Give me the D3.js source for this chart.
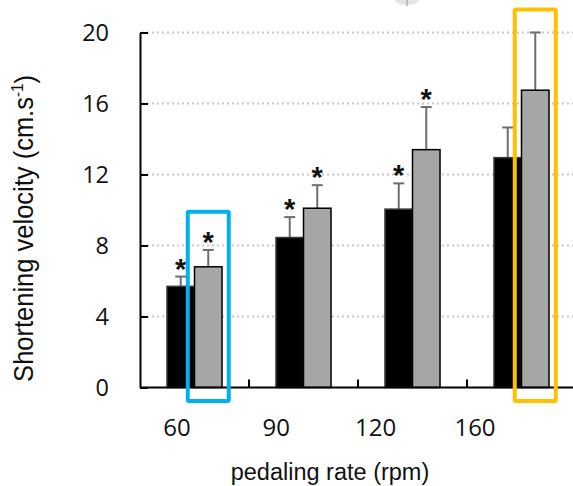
<!DOCTYPE html>
<html>
<head>
<meta charset="utf-8">
<script src="https://cdn.jsdelivr.net/npm/d3@7"></script>
<style>
  html, body { margin: 0; padding: 0; background: #fff; }
  svg { display: block; }
</style>
</head>
<body>
<svg id="chart" width="573" height="486"></svg>
<script>
// ---- data ----
const categories = ["60", "90", "120", "160"];
const seriesNames = ["black", "gray"];
const blackValues = [5.7, 8.45, 10.05, 12.95];
const blackErrors = [0.55, 1.15, 1.45, 1.7];
const grayValues = [6.8, 10.1, 13.4, 16.75];
const grayErrors = [0.95, 1.3, 2.4, 3.25];
const blackStars = [true, true, true, false];
const grayStars = [true, true, true, false];
const yTicks = [0, 4, 8, 12, 16, 20];
const highlightCats = ["60", "160"];
const highlightTops = [9.9, 21.3];
const highlightColors = ["#00b0f0", "#ffc000"];
const yTitle = "Shortening velocity (cm.s";
const yTitleSup = "-1";
const xTitle = "pedaling rate (rpm)";

(function () {
// ---- layout ----
const svg = d3.select("#chart");
const mLeft = 140, mRight = 576, mTop = 32.5, mBottom = 387.5;

const y = d3.scaleLinear().domain([0, 20]).range([mBottom, mTop]);
const x = d3.scaleBand().domain(categories).range([mLeft, mRight]).padding(0);
const xs = d3.scaleBand().domain(seriesNames).range([0, x.bandwidth()]).paddingInner(0).paddingOuter(0.98);
const xLabel = d3.scalePoint().domain(categories).range([177, 475]);

const rows = categories.map((c, i) => ({
  cat: c,
  bars: [
    { s: "black", v: blackValues[i], e: blackErrors[i], star: blackStars[i] },
    { s: "gray", v: grayValues[i], e: grayErrors[i], star: grayStars[i] }
  ]
}));

// faint artifact at top
svg.append("ellipse").attr("cx", 407).attr("cy", 0).attr("rx", 12).attr("ry", 5)
  .attr("fill", "#e4e4e4");
svg.append("line").attr("x1", 407).attr("x2", 407).attr("y1", 0).attr("y2", 6)
  .attr("stroke", "#b0b0b0").attr("stroke-width", 1.5);

// gridlines
svg.append("g").selectAll("line").data(yTicks.filter(t => t > 0)).join("line")
  .attr("x1", mLeft + 2).attr("x2", 573)
  .attr("y1", d => y(d)).attr("y2", d => y(d))
  .attr("stroke", "#c8c8c8").attr("stroke-width", 2)
  .attr("stroke-dasharray", "2 3");

// bars
const groups = svg.append("g").selectAll("g").data(rows).join("g")
  .attr("transform", d => `translate(${x(d.cat)},0)`);

// error bars
groups.selectAll("g.err").data(d => d.bars).join("g").attr("class", "err").each(function(d) {
  const g = d3.select(this);
  const cx = xs(d.s) + xs.bandwidth() / 2;
  g.append("line").attr("x1", cx).attr("x2", cx)
    .attr("y1", y(d.v)).attr("y2", y(d.v + d.e))
    .attr("stroke", "#6e6e6e").attr("stroke-width", 2);
  g.append("line").attr("x1", cx - 5.5).attr("x2", cx + 5.5)
    .attr("y1", y(d.v + d.e)).attr("y2", y(d.v + d.e))
    .attr("stroke", "#6e6e6e").attr("stroke-width", 2);
});

groups.selectAll("rect").data(d => d.bars).join("rect")
  .attr("x", d => xs(d.s))
  .attr("width", xs.bandwidth())
  .attr("y", d => y(d.v))
  .attr("height", d => y(0) - y(d.v))
  .attr("fill", d => d.s === "black" ? "#000" : "#a6a6a6")
  .attr("stroke", d => d.s === "black" ? "#3a3a3a" : "#000")
  .attr("stroke-width", 1.5);

// asterisks
groups.selectAll("text.star").data(d => d.bars.filter(b => b.star)).join("text")
  .attr("class", "star")
  .attr("x", d => xs(d.s) + xs.bandwidth() / 2)
  .attr("y", d => y(d.v + d.e) - 15 + 17)
  .attr("text-anchor", "middle")
  .attr("font-family", "Liberation Sans, Arial, sans-serif")
  .attr("font-weight", "bold")
  .attr("font-size", 29)
  .attr("fill", "#111")
  .text("*");

// y axis
const yAxis = d3.axisLeft(y).tickValues(yTicks).tickSizeInner(-8).tickSizeOuter(0).tickPadding(31);
const gy = svg.append("g").attr("transform", `translate(${mLeft},0)`).call(yAxis);
gy.select(".domain").attr("stroke", "#000").attr("stroke-width", 2);
gy.selectAll(".tick line").attr("stroke", "#000").attr("stroke-width", 2);
gy.selectAll(".tick text").attr("font-family", "Open Sans, sans-serif").attr("font-size", 23.5)
  .attr("fill", "#111").attr("dy", "0.35em");

// x axis line & ticks
svg.append("line").attr("x1", mLeft).attr("x2", 573).attr("y1", mBottom).attr("y2", mBottom)
  .attr("stroke", "#000").attr("stroke-width", 2);
svg.append("g").selectAll("line").data(categories).join("line")
  .attr("x1", d => x(d) + x.bandwidth()).attr("x2", d => x(d) + x.bandwidth())
  .attr("y1", mBottom).attr("y2", mBottom - 8)
  .attr("stroke", "#000").attr("stroke-width", 2);

// x tick labels
svg.append("g").selectAll("text").data(categories).join("text")
  .attr("x", d => xLabel(d)).attr("y", 428)
  .attr("dy", "0.35em")
  .attr("text-anchor", "middle")
  .attr("font-family", "Open Sans, sans-serif").attr("font-size", 24)
  .attr("fill", "#111")
  .text(d => d);

// highlight boxes
svg.append("g").selectAll("rect").data(highlightCats.map((c, i) => ({ c, t: highlightTops[i], color: highlightColors[i] })))
  .join("rect")
  .attr("x", d => x(d.c) + xs("gray") + xs.bandwidth() / 2 - 20.5)
  .attr("width", 41)
  .attr("y", d => y(d.t))
  .attr("height", d => 401 - y(d.t))
  .attr("fill", "none")
  .attr("stroke", d => d.color)
  .attr("stroke-width", 4)
  .attr("rx", 1);

// titles
svg.append("text")
  .attr("x", 330).attr("y", 480)
  .attr("text-anchor", "middle")
  .attr("font-family", "Liberation Sans, Arial, sans-serif").attr("font-size", 23.5)
  .attr("fill", "#111")
  .text(xTitle);

const yt = svg.append("text")
  .attr("text-anchor", "middle")
  .attr("font-family", "Liberation Sans, Arial, sans-serif").attr("font-size", 27)
  .attr("fill", "#111");
yt.append("tspan").text(yTitle);
yt.append("tspan").attr("font-size", 16).attr("dy", "-0.6em").text(yTitleSup);
yt.append("tspan").attr("dy", "0.4em").text(")");
const L = yt.node().getComputedTextLength();
const sx = L > 0 ? 307 / L : 1;
yt.attr("transform", `translate(33,228.5) rotate(-90) scale(${sx},1)`);
})();
</script>
</body>
</html>
